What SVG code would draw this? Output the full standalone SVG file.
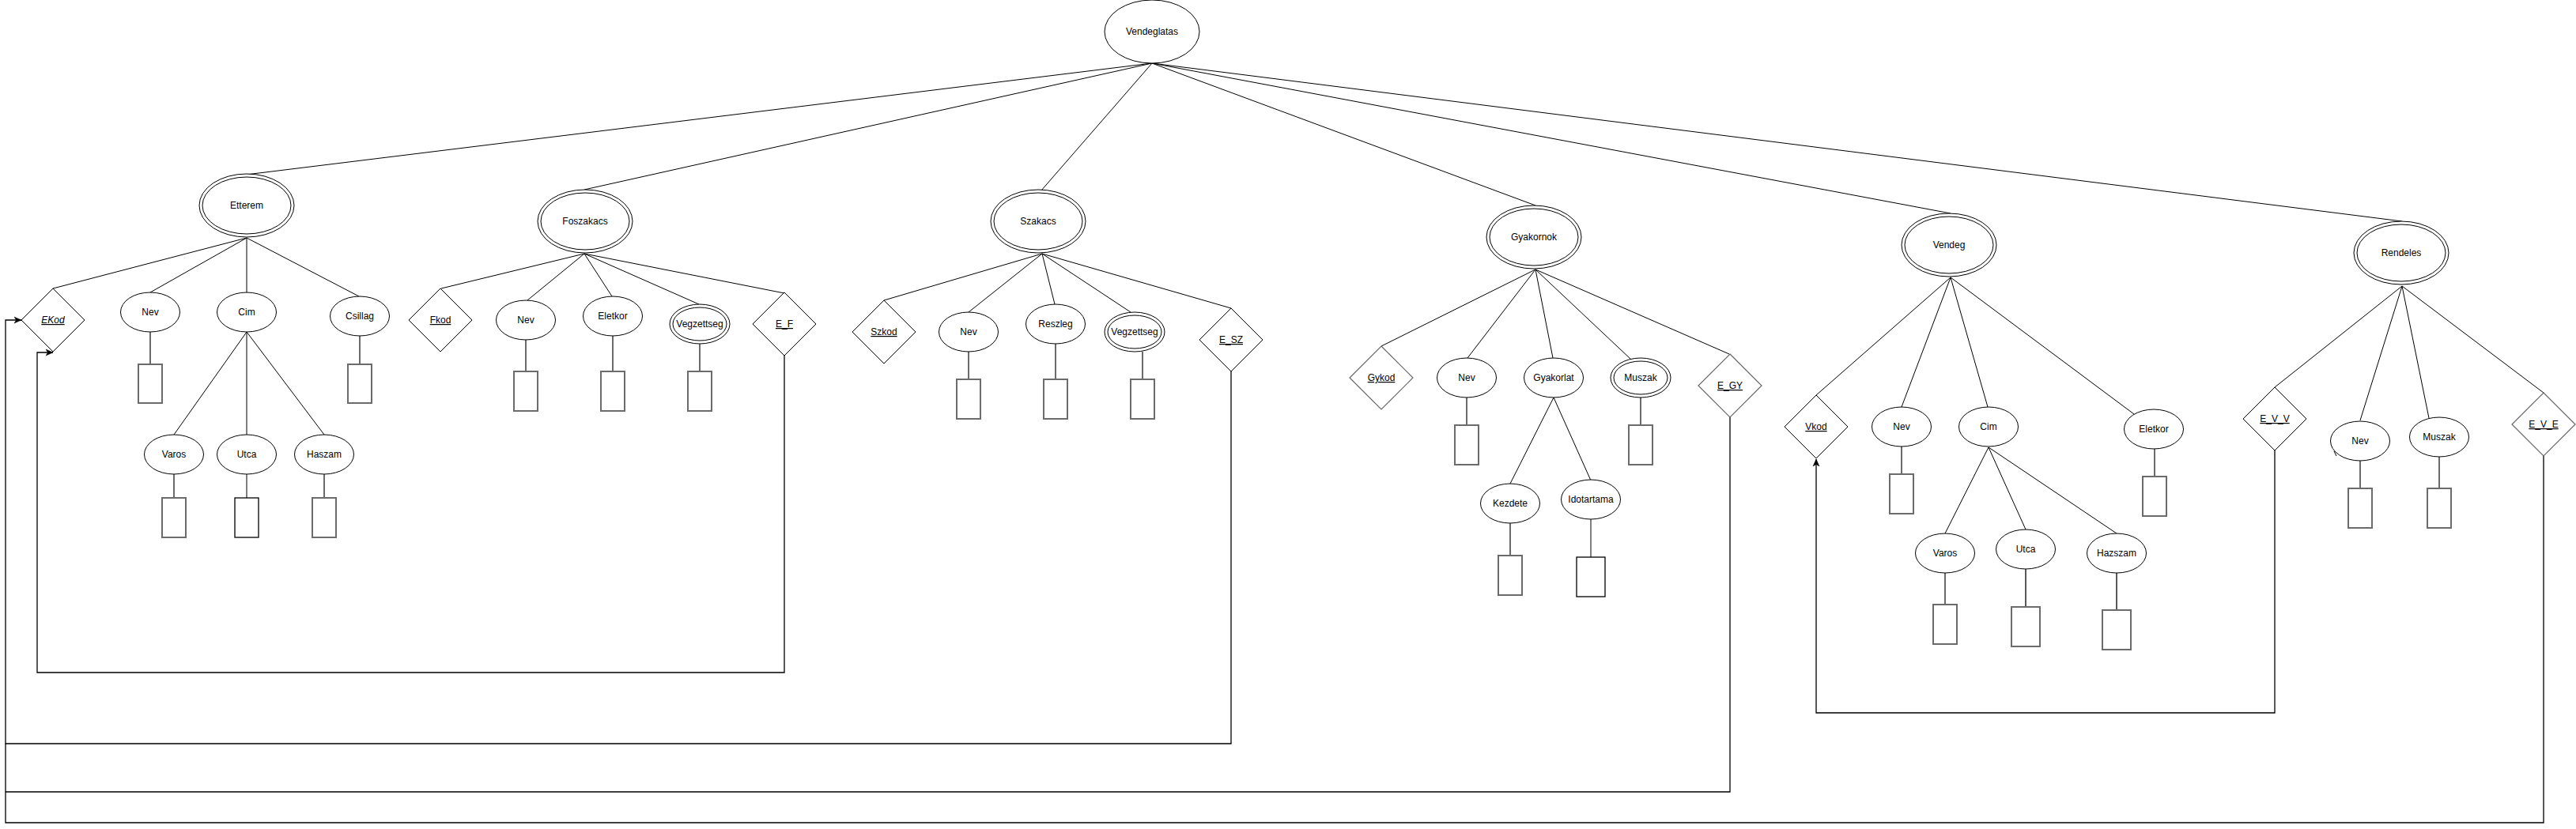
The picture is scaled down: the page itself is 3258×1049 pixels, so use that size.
<svg xmlns="http://www.w3.org/2000/svg" width="3258" height="1049" viewBox="0 0 3258 1049">
<style>
  text { font-family: "Liberation Sans", Arial, Helvetica, sans-serif; font-size: 12px; fill: #000; text-anchor: middle; }
  .u { text-decoration: underline; }
  .i { font-style: italic; }
  .sh { fill: #fff; stroke: #000; stroke-width: 1; }
  .shg { fill: #fff; stroke: #666; stroke-width: 1.2; }
  .box { fill: #fff; stroke: #6b6b6b; stroke-width: 2; }
  .boxb { fill: #fff; stroke: #000; stroke-width: 1.3; }
  .ln { fill: none; stroke: #000; stroke-width: 1; }
  .lg { fill: none; stroke: #6b6b6b; stroke-width: 2; }
  .lb { fill: none; stroke: #000; stroke-width: 1.3; }
  .rt { fill: none; stroke: #000; stroke-width: 1.3; marker-end: url(#arr); }
  .rt0 { fill: none; stroke: #000; stroke-width: 1.3; }
</style>
<defs>
  <marker id="arr" markerUnits="userSpaceOnUse" markerWidth="10" markerHeight="10" refX="9" refY="5" orient="auto">
    <path d="M0,1 L9,5 L0,9 L2.5,5 Z" fill="#000" stroke="#000" stroke-width="0.5"/>
  </marker>
</defs>
<rect x="0" y="0" width="3258" height="1049" fill="#fff"/>

<g id="connectors">
  <!-- root to entities -->
  <path class="ln" d="M1457,80 L311,221"/>
  <path class="ln" d="M1457,80 L739,240"/>
  <path class="ln" d="M1457,80 L1317,241"/>
  <path class="ln" d="M1457,80 L1942,260"/>
  <path class="ln" d="M1457,80 L2467,270"/>
  <path class="ln" d="M1457,80 L3038,280"/>
  <!-- Etterem -->
  <path class="ln" d="M312,301 L67,365"/>
  <path class="ln" d="M312,301 L190,370"/>
  <path class="ln" d="M312,301 L312,370"/>
  <path class="ln" d="M312,301 L454,375"/>
  <path class="ln" d="M312,420 L220,550"/>
  <path class="ln" d="M312,420 L312,550"/>
  <path class="ln" d="M312,420 L410,550"/>
  <path class="lg" d="M190,420 V461"/>
  <path class="lg" d="M455,425 V461"/>
  <path class="lg" d="M220,600 V630"/>
  <path class="ln" d="M312,600 V630"/>
  <path class="lg" d="M410,600 V630"/>
  <!-- Foszakacs -->
  <path class="ln" d="M739,321 L558,365"/>
  <path class="ln" d="M739,321 L667,380"/>
  <path class="ln" d="M739,321 L774,375"/>
  <path class="ln" d="M739,321 L884,385"/>
  <path class="ln" d="M739,321 L992,371"/>
  <path class="lg" d="M665,430 V470"/>
  <path class="lg" d="M775,425 V470"/>
  <path class="lg" d="M885,435 V470"/>
  <!-- Szakacs -->
  <path class="ln" d="M1318,321 L1118,380"/>
  <path class="ln" d="M1318,321 L1225,395"/>
  <path class="ln" d="M1318,321 L1334,385"/>
  <path class="ln" d="M1318,321 L1430,395"/>
  <path class="ln" d="M1318,321 L1557,390"/>
  <path class="lg" d="M1225,445 V480"/>
  <path class="lg" d="M1335,435 V480"/>
  <path class="lg" d="M1445,445 V480"/>
  <!-- Gyakornok -->
  <path class="ln" d="M1942,341 L1747,438"/>
  <path class="ln" d="M1942,341 L1856,453"/>
  <path class="ln" d="M1942,341 L1964,453"/>
  <path class="ln" d="M1942,341 L2062,454"/>
  <path class="ln" d="M1942,341 L2187,448"/>
  <path class="ln" d="M1965,503 L1910,612"/>
  <path class="ln" d="M1965,503 L2012,608"/>
  <path class="lg" d="M1855,503 V538"/>
  <path class="lg" d="M2075,503 V538"/>
  <path class="lg" d="M1910,662 V703"/>
  <path class="ln" d="M2012,657 V705"/>
  <!-- Vendeg -->
  <path class="ln" d="M2467,351 L2297,500"/>
  <path class="ln" d="M2467,351 L2405,515"/>
  <path class="ln" d="M2467,351 L2514,515"/>
  <path class="ln" d="M2467,351 L2699,524"/>
  <path class="ln" d="M2515,566 L2460,675"/>
  <path class="ln" d="M2515,566 L2562,670"/>
  <path class="ln" d="M2515,566 L2677,675"/>
  <path class="lg" d="M2405,565 V600"/>
  <path class="lg" d="M2725,568 V603"/>
  <path class="lg" d="M2460,725 V765"/>
  <path class="lb" d="M2562,720 V768"/>
  <path class="lb" d="M2677,725 V772"/>
  <!-- Rendeles -->
  <path class="ln" d="M3038,362 L2877,490"/>
  <path class="ln" d="M3038,362 L2985,532"/>
  <path class="ln" d="M3038,362 L3072,529"/>
  <path class="ln" d="M3038,362 L3217,497"/>
  <path class="lg" d="M2985,583 V618"/>
  <path class="lg" d="M3085,578 V618"/>
  <path class="ln" d="M2952,571 L2955,577"/>
  <!-- foreign key routes -->
  <path class="rt" d="M992,450 V851 H47 V446 H67"/>
  <path class="rt" d="M1557,470 V941 H7 V405 H27"/>
  <path class="rt0" d="M2188,528 V1002 H7"/>
  <path class="rt0" d="M3217,577 V1041 H7 V941"/>
  <path class="rt" d="M2877,570 V902 H2297 V581"/>
</g>

<g id="vendeglatas">
  <ellipse class="sh" cx="1457" cy="40" rx="60" ry="40"/>
  <text x="1457" y="44">Vendeglatas</text>
</g>

<!-- Etterem -->
<g id="etterem">
  <ellipse class="sh" cx="312" cy="260" rx="60" ry="40"/>
  <ellipse class="sh" cx="312" cy="260" rx="56" ry="36"/>
  <text x="312" y="264">Etterem</text>
</g>
<g id="etterem-ekod">
  <polygon class="sh" points="67,365 107,405 67,445 27,405"/>
  <text class="u i" x="67" y="409">EKod</text>
</g>
<g id="etterem-nev">
  <ellipse class="sh" cx="190" cy="395" rx="37.5" ry="25"/>
  <text x="190" y="399">Nev</text>
</g>
<g id="etterem-cim">
  <ellipse class="sh" cx="312" cy="395" rx="37.5" ry="25"/>
  <text x="312" y="399">Cim</text>
</g>
<g id="etterem-csillag">
  <ellipse class="sh" cx="455" cy="400" rx="37.5" ry="25"/>
  <text x="455" y="404">Csillag</text>
</g>
<g id="etterem-varos">
  <ellipse class="sh" cx="220" cy="575" rx="37.5" ry="25"/>
  <text x="220" y="579">Varos</text>
</g>
<g id="etterem-utca">
  <ellipse class="sh" cx="312" cy="575" rx="37.5" ry="25"/>
  <text x="312" y="579">Utca</text>
</g>
<g id="etterem-haszam">
  <ellipse class="sh" cx="410" cy="575" rx="37.5" ry="25"/>
  <text x="410" y="579">Haszam</text>
</g>
<g id="etterem-nev-t"><rect class="box" x="175" y="461" width="30" height="49"/></g>
<g id="etterem-csillag-t"><rect class="box" x="440" y="461" width="30" height="49"/></g>
<g id="etterem-varos-t"><rect class="box" x="205" y="630" width="30" height="50"/></g>
<g id="etterem-utca-t"><rect class="boxb" x="297" y="630" width="30" height="50"/></g>
<g id="etterem-haszam-t"><rect class="box" x="395" y="630" width="30" height="50"/></g>

<!-- Foszakacs -->
<g id="foszakacs">
  <ellipse class="sh" cx="740" cy="280" rx="60" ry="40"/>
  <ellipse class="sh" cx="740" cy="280" rx="56" ry="36"/>
  <text x="740" y="284">Foszakacs</text>
</g>
<g id="foszakacs-fkod">
  <polygon class="sh" points="557,365 597,405 557,445 517,405"/>
  <text class="u" x="557" y="409">Fkod</text>
</g>
<g id="foszakacs-nev">
  <ellipse class="sh" cx="665" cy="405" rx="37.5" ry="25"/>
  <text x="665" y="409">Nev</text>
</g>
<g id="foszakacs-eletkor">
  <ellipse class="sh" cx="775" cy="400" rx="37.5" ry="25"/>
  <text x="775" y="404">Eletkor</text>
</g>
<g id="foszakacs-vegzettseg">
  <ellipse class="sh" cx="885" cy="410" rx="38" ry="25"/>
  <ellipse class="sh" cx="885" cy="410" rx="34" ry="21"/>
  <text x="885" y="414">Vegzettseg</text>
</g>
<g id="foszakacs-ef">
  <polygon class="sh" points="992,370 1032,410 992,450 952,410"/>
  <text class="u" x="992" y="414">E_F</text>
</g>
<g id="foszakacs-nev-t"><rect class="box" x="650" y="470" width="30" height="50"/></g>
<g id="foszakacs-eletkor-t"><rect class="box" x="760" y="470" width="30" height="50"/></g>
<g id="foszakacs-vegzettseg-t"><rect class="box" x="870" y="470" width="30" height="50"/></g>

<!-- Szakacs -->
<g id="szakacs">
  <ellipse class="sh" cx="1313" cy="280" rx="60" ry="40"/>
  <ellipse class="sh" cx="1313" cy="280" rx="56" ry="36"/>
  <text x="1313" y="284">Szakacs</text>
</g>
<g id="szakacs-szkod">
  <polygon class="sh" points="1118,380 1158,420 1118,460 1078,420"/>
  <text class="u" x="1118" y="424">Szkod</text>
</g>
<g id="szakacs-nev">
  <ellipse class="sh" cx="1225" cy="420" rx="37.5" ry="25"/>
  <text x="1225" y="424">Nev</text>
</g>
<g id="szakacs-reszleg">
  <ellipse class="sh" cx="1335" cy="410" rx="37.5" ry="25"/>
  <text x="1335" y="414">Reszleg</text>
</g>
<g id="szakacs-vegzettseg">
  <ellipse class="sh" cx="1435" cy="420" rx="38" ry="25"/>
  <ellipse class="sh" cx="1435" cy="420" rx="34" ry="21"/>
  <text x="1435" y="424">Vegzettseg</text>
</g>
<g id="szakacs-esz">
  <polygon class="sh" points="1557,390 1597,430 1557,470 1517,430"/>
  <text class="u" x="1557" y="434">E_SZ</text>
</g>
<g id="szakacs-nev-t"><rect class="box" x="1210" y="480" width="30" height="50"/></g>
<g id="szakacs-reszleg-t"><rect class="box" x="1320" y="480" width="30" height="50"/></g>
<g id="szakacs-vegzettseg-t"><rect class="box" x="1430" y="480" width="30" height="50"/></g>

<!-- Gyakornok -->
<g id="gyakornok">
  <ellipse class="sh" cx="1940" cy="300" rx="60" ry="40"/>
  <ellipse class="sh" cx="1940" cy="300" rx="56" ry="36"/>
  <text x="1940" y="304">Gyakornok</text>
</g>
<g id="gyakornok-gykod">
  <polygon class="shg" points="1747,438 1787,478 1747,518 1707,478"/>
  <text class="u" x="1747" y="482">Gykod</text>
</g>
<g id="gyakornok-nev">
  <ellipse class="sh" cx="1855" cy="478" rx="37.5" ry="25"/>
  <text x="1855" y="482">Nev</text>
</g>
<g id="gyakornok-gyakorlat">
  <ellipse class="sh" cx="1965" cy="478" rx="37.5" ry="25"/>
  <text x="1965" y="482">Gyakorlat</text>
</g>
<g id="gyakornok-muszak">
  <ellipse class="sh" cx="2075" cy="478" rx="38" ry="25"/>
  <ellipse class="sh" cx="2075" cy="478" rx="34" ry="21"/>
  <text x="2075" y="482">Muszak</text>
</g>
<g id="gyakornok-egy">
  <polygon class="shg" points="2188,448 2228,488 2188,528 2148,488"/>
  <text class="u" x="2188" y="492">E_GY</text>
</g>
<g id="gyakornok-kezdete">
  <ellipse class="sh" cx="1910" cy="637" rx="37.5" ry="25"/>
  <text x="1910" y="641">Kezdete</text>
</g>
<g id="gyakornok-idotartama">
  <ellipse class="sh" cx="2012" cy="632" rx="37.5" ry="25"/>
  <text x="2012" y="636">Idotartama</text>
</g>
<g id="gyakornok-nev-t"><rect class="box" x="1840" y="538" width="30" height="50"/></g>
<g id="gyakornok-muszak-t"><rect class="box" x="2060" y="538" width="30" height="50"/></g>
<g id="gyakornok-kezdete-t"><rect class="box" x="1895" y="703" width="30" height="50"/></g>
<g id="gyakornok-idotartama-t"><rect class="boxb" x="1994" y="705" width="36" height="50"/></g>

<!-- Vendeg -->
<g id="vendeg">
  <ellipse class="sh" cx="2465" cy="310" rx="60" ry="40"/>
  <ellipse class="sh" cx="2465" cy="310" rx="56" ry="36"/>
  <text x="2465" y="314">Vendeg</text>
</g>
<g id="vendeg-vkod">
  <polygon class="sh" points="2297,500 2337,540 2297,580 2257,540"/>
  <text class="u" x="2297" y="544">Vkod</text>
</g>
<g id="vendeg-nev">
  <ellipse class="sh" cx="2405" cy="540" rx="37.5" ry="25"/>
  <text x="2405" y="544">Nev</text>
</g>
<g id="vendeg-cim">
  <ellipse class="sh" cx="2515" cy="540" rx="37.5" ry="25"/>
  <text x="2515" y="544">Cim</text>
</g>
<g id="vendeg-eletkor">
  <ellipse class="sh" cx="2724" cy="543" rx="37.5" ry="25"/>
  <text x="2724" y="547">Eletkor</text>
</g>
<g id="vendeg-varos">
  <ellipse class="sh" cx="2460" cy="700" rx="37.5" ry="25"/>
  <text x="2460" y="704">Varos</text>
</g>
<g id="vendeg-utca">
  <ellipse class="sh" cx="2562" cy="695" rx="37.5" ry="25"/>
  <text x="2562" y="699">Utca</text>
</g>
<g id="vendeg-hazszam">
  <ellipse class="sh" cx="2677" cy="700" rx="37.5" ry="25"/>
  <text x="2677" y="704">Hazszam</text>
</g>
<g id="vendeg-nev-t"><rect class="box" x="2390" y="600" width="30" height="50"/></g>
<g id="vendeg-eletkor-t"><rect class="box" x="2710" y="603" width="30" height="50"/></g>
<g id="vendeg-varos-t"><rect class="box" x="2445" y="765" width="30" height="50"/></g>
<g id="vendeg-utca-t"><rect class="box" x="2544" y="768" width="36" height="50"/></g>
<g id="vendeg-hazszam-t"><rect class="box" x="2659" y="772" width="36" height="50"/></g>

<!-- Rendeles -->
<g id="rendeles">
  <ellipse class="sh" cx="3037" cy="320" rx="60" ry="40"/>
  <ellipse class="sh" cx="3037" cy="320" rx="56" ry="36"/>
  <text x="3037" y="324">Rendeles</text>
</g>
<g id="rendeles-evv">
  <polygon class="sh" points="2877,490 2917,530 2877,570 2837,530"/>
  <text class="u" x="2877" y="534">E_V_V</text>
</g>
<g id="rendeles-nev">
  <ellipse class="sh" cx="2985" cy="558" rx="37.5" ry="25"/>
  <text x="2985" y="562">Nev</text>
</g>
<g id="rendeles-muszak">
  <ellipse class="sh" cx="3085" cy="553" rx="37.5" ry="25"/>
  <text x="3085" y="557">Muszak</text>
</g>
<g id="rendeles-eve">
  <polygon class="shg" points="3217,497 3257,537 3217,577 3177,537"/>
  <text class="u" x="3217" y="541">E_V_E</text>
</g>
<g id="rendeles-nev-t"><rect class="box" x="2970" y="618" width="30" height="50"/></g>
<g id="rendeles-muszak-t"><rect class="box" x="3070" y="618" width="30" height="50"/></g>
</svg>
